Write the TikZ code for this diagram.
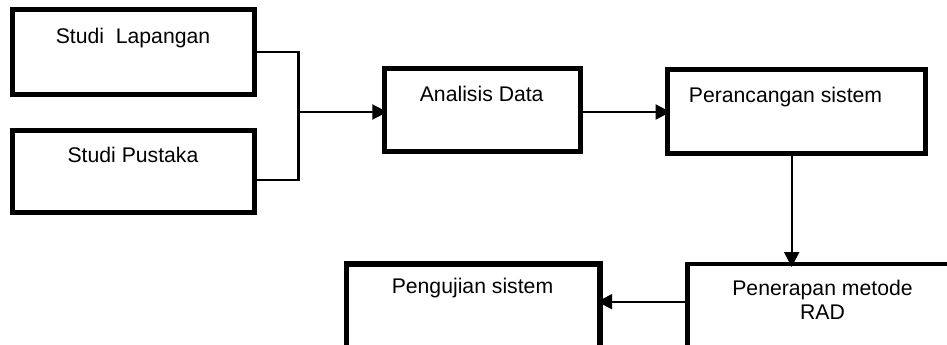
\documentclass[tikz,border=0pt]{standalone}
\usepackage{fontspec}
\setmainfont{Liberation Sans}
\usetikzlibrary{arrows.meta}

\begin{document}
\begin{tikzpicture}[x=1pt, y=-1pt,
  box/.style={draw, line width=5pt, rectangle, inner sep=0pt, outer sep=0pt},
  lbl/.style={anchor=base, inner sep=0pt, font=\fontsize{21.2}{24.3}\selectfont},
  wire/.style={line width=2.2pt},
  flow/.style={wire, -{Triangle[length=15pt,width=15pt]}, shorten >=-3pt}]

\useasboundingbox (0,0) rectangle (947,345);
\clip (0,0) rectangle (947,345);

% process boxes
\node[box, minimum width=242pt, minimum height=85pt]   (lap)  at (133.5,52)  {};
\node[box, minimum width=242pt, minimum height=82pt]   (pus)  at (133.5,171.5) {};
\node[box, minimum width=196.3pt, minimum height=83pt] (ana)  at (482.4,110) {};
\node[box, minimum width=258pt, minimum height=83.7pt] (ran)  at (796.5,111.6) {};
\node[box, line width=5.5pt, anchor=north west, minimum width=253.7pt, minimum height=120pt] (uji) at (346.5,264.2) {};
\node[box, line width=4.5pt, anchor=north west, minimum width=300pt, minimum height=120pt] (rad) at (687.5,264) {};

% labels
\node[lbl] (tlap) at (133,43.3)  {Studi\ \ Lapangan};
\node[lbl] (tpus) at (133,162.7) {Studi Pustaka};
\node[lbl] (tana) at (481.7,101) {Analisis Data};
\node[lbl] (tran) at (785.5,102.7) {Perancangan sistem};
\node[lbl] (tuji) at (472.5,293.3) {Pengujian sistem};
\node[lbl] (trad1) at (822.5,295) {Penerapan metode};
\node[lbl] (trad2) at (822.5,319.3) {RAD};

% joining the two studies
\coordinate (j) at (298.5,112);
\draw[wire] (lap.east) -| (j);
\draw[wire] ([yshift=-8.5pt]pus.east) -| (j);
\draw[flow] (j) -- (ana.west |- j);

% main flow
\draw[flow] (ana.east |- j) -- (ran.west |- j);
\draw[flow] ([xshift=-4.8pt]ran.south) -- ([xshift=-4.8pt]ran.south |- rad.north);
\draw[flow] (rad.north west |- 0,301.7) -- (uji.north east |- 0,301.7);
\end{tikzpicture}
\end{document}
